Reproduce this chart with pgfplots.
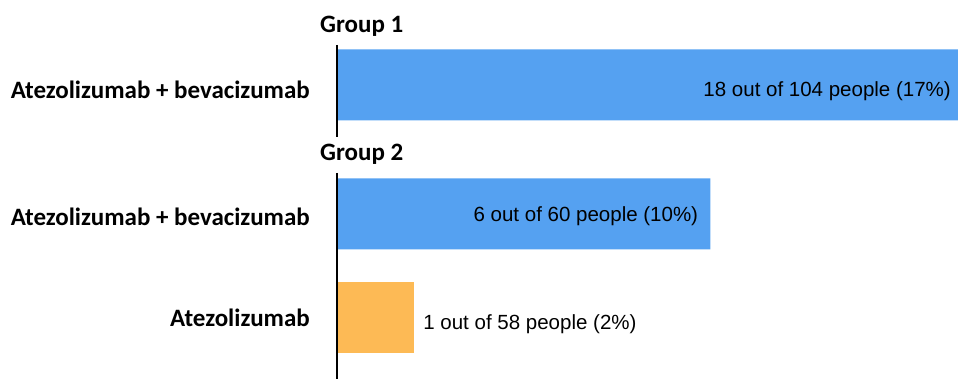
\documentclass[border=0pt]{standalone}
\usepackage{pgfplots}
\pgfplotsset{compat=1.18}
\usepackage{fontspec}
\setmainfont{Carlito}
\newfontfamily\valfont{Liberation Sans}
\definecolor{barblue}{RGB}{85,161,241}
\definecolor{barorange}{RGB}{253,186,85}
\begin{document}
\begin{tikzpicture}[x=1pt,y=1pt]
\useasboundingbox (0,0) rectangle (958,379);
\begin{axis}[
  at={(337pt,0pt)}, anchor=south west,
  width=621pt, height=379pt, scale only axis,
  xmin=0, xmax=17.3, ymin=0, ymax=379,
  axis lines=none, clip=false,
  xbar, bar width=71pt, bar shift=0pt,
]
\addplot[fill=barblue, draw=none] coordinates {(17.3,294) (10.4,165)};
\addplot[fill=barorange, draw=none] coordinates {(2.15,61)};
\draw[line width=2pt] (axis cs:0,334) -- (axis cs:0,242);
\draw[line width=2pt] (axis cs:0,206) -- (axis cs:0,0);
% category labels
\node[anchor=base east, font=\fontsize{25}{30}\selectfont\bfseries, inner sep=0pt, xshift=-27pt] at (axis cs:0,280) {Atezolizumab + bevacizumab};
\node[anchor=base east, font=\fontsize{25}{30}\selectfont\bfseries, inner sep=0pt, xshift=-27pt] at (axis cs:0,153) {Atezolizumab + bevacizumab};
\node[anchor=base east, font=\fontsize{25}{30}\selectfont\bfseries, inner sep=0pt, xshift=-27pt] at (axis cs:0,52) {Atezolizumab};
% group titles
\node[anchor=base west, font=\fontsize{25}{30}\selectfont\bfseries, inner sep=0pt, xshift=-17pt] at (axis cs:0,346) {Group 1};
\node[anchor=base west, font=\fontsize{25}{30}\selectfont\bfseries, inner sep=0pt, xshift=-17pt] at (axis cs:0,218) {Group 2};
% value labels
\node[anchor=base east, font=\fontsize{20.5}{24}\selectfont\valfont, inner sep=0pt, xshift=-7pt] at (axis cs:17.3,282) {18 out of 104 people (17\%)};
\node[anchor=base east, font=\fontsize{20.5}{24}\selectfont\valfont, inner sep=0pt, xshift=-12pt] at (axis cs:10.4,157) {6 out of 60 people (10\%)};
\node[anchor=base west, font=\fontsize{20.5}{24}\selectfont\valfont, inner sep=0pt, xshift=9pt] at (axis cs:2.15,49) {1 out of 58 people (2\%)};
\end{axis}
\end{tikzpicture}
\end{document}
